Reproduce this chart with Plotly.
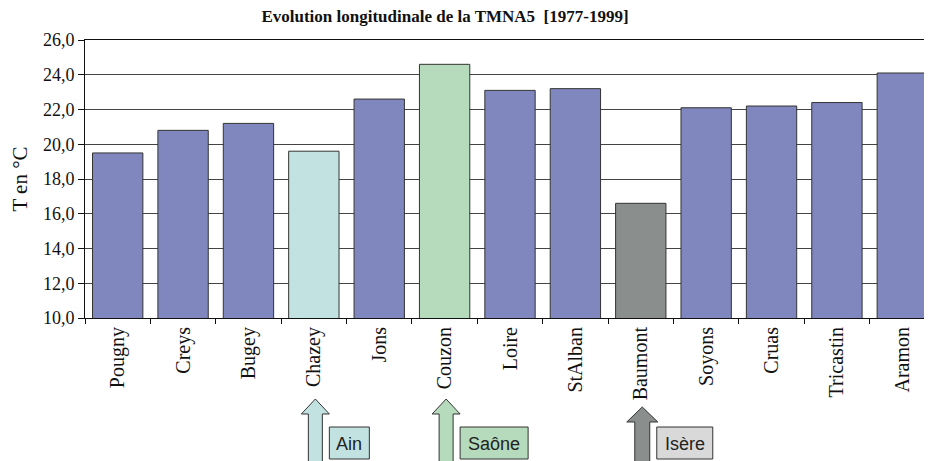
import plotly.graph_objects as go

# ---- data ----
stations = ["Pougny", "Creys", "Bugey", "Chazey", "Jons", "Couzon", "Loire",
            "StAlban", "Baumont", "Soyons", "Cruas", "Tricastin", "Aramon"]
tmna5 = [19.5, 20.8, 21.2, 19.6, 22.6, 24.6, 23.1, 23.2, 16.6, 22.1, 22.2, 22.4, 24.1]
affluent = ["Rhône", "Rhône", "Rhône", "Ain", "Rhône", "Saône", "Rhône",
            "Rhône", "Isère", "Rhône", "Rhône", "Rhône", "Rhône"]
labelled = ["Ain", "Saône", "Isère"]

# ---- style ----
bar_colors = {"Rhône": "#8087BF", "Ain": "#C1E2E0", "Saône": "#B5DBBC", "Isère": "#8A8E8D"}
box_colors = {"Ain": "#C1E2E0", "Saône": "#B5DBBC", "Isère": "#D9D9D9"}

# the page body adds an 8px margin; work in page pixels and shift
OFF = 8
W, H = 932, 461
PL, PR, PT, PB = 85, 935, 40, 318     # plot area in page pixels
L = PL - OFF
T = PT - OFF
R = W - (PR - OFF)
B = H - (PB - OFF)
PW, PH = PR - PL, PB - PT
NCAT = len(stations)


def xp(px):
    return (px - PL) / PW


def yp(py):
    return (PB - py) / PH


def cat_center_px(i):
    return PL + PW / NCAT * (i + 0.5)


fig = go.Figure()
fig.add_trace(go.Bar(
    x=stations, y=tmna5,
    marker=dict(color=[bar_colors[a] for a in affluent],
                line=dict(color="#333333", width=1)),
    hoverinfo="x+y",
))

shapes = []
annotations = []
for name in labelled:
    i = affluent.index(name)
    cx = cat_center_px(i) + 1.5
    is_isere = name == "Isère"
    tip = 407 if is_isere else 399
    base = tip + 15
    hw = 15.5 if is_isere else 14
    sw = 7.5 if is_isere else 7
    bot = 463
    pts = [(cx, tip), (cx + hw, base), (cx + sw, base), (cx + sw, bot),
           (cx - sw, bot), (cx - sw, base), (cx - hw, base)]
    path = "M " + " L ".join(f"{xp(x):.5f},{yp(y):.5f}" for x, y in pts) + " Z"
    shapes.append(dict(type="path", xref="paper", yref="paper", path=path,
                       fillcolor=bar_colors[name], line=dict(color="#333333", width=1),
                       layer="above"))
    bw = {"Ain": 40, "Saône": 68, "Isère": 56}[name]
    bx0 = cx + sw + 7
    shapes.append(dict(type="rect", xref="paper", yref="paper",
                       x0=xp(bx0), x1=xp(bx0 + bw), y0=yp(459), y1=yp(427),
                       fillcolor=box_colors[name], line=dict(color="#333333", width=1),
                       layer="above"))
    annotations.append(dict(xref="paper", yref="paper", x=xp(bx0 + bw / 2), y=yp(444),
                            text=name, showarrow=False, xanchor="center", yanchor="middle",
                            font=dict(family="Liberation Sans, Arial", size=18, color="#222222")))

fig.update_layout(
    width=W, height=H,
    margin=dict(l=L, r=R, t=T, b=B, autoexpand=False),
    paper_bgcolor="white", plot_bgcolor="white",
    separators=", ",
    showlegend=False,
    bargap=0.23,
    font=dict(family="Liberation Serif, Times New Roman", size=17, color="#111111"),
    title=dict(text="<b>Evolution longitudinale de la TMNA5 \u00a0[1977-1999]</b>",
               x=(445 - OFF) / W, xref="container", xanchor="center",
               y=1 - (16 - OFF) / H, yref="container", yanchor="middle",
               font=dict(family="Liberation Serif, Times New Roman", size=17, color="#111111")),
    xaxis=dict(
        range=[-0.5, NCAT - 0.5],
        tickangle=-90,
        tickfont=dict(size=20),
        ticks="outside", tickson="boundaries", ticklen=5, tickcolor="#111111",
        showline=True, linecolor="#111111", linewidth=1, mirror=True,
        showgrid=False,
    ),
    yaxis=dict(
        range=[10, 26], dtick=2, tickformat=".1f",
        tickfont=dict(size=18),
        ticks="outside", ticklen=6, tickcolor="#111111",
        showline=True, linecolor="#111111", linewidth=1,
        showgrid=True, gridcolor="#444444", gridwidth=1,
        zeroline=False,
        title=dict(text="T en °C", font=dict(size=21), standoff=12),
    ),
    shapes=shapes,
    annotations=annotations,
)

fig.write_html("out.html")
